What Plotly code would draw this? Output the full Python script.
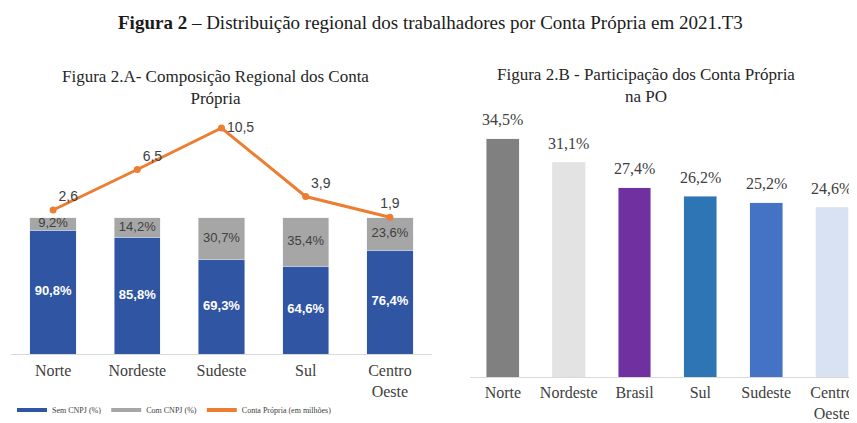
import plotly.graph_objects as go

# ---- Data: Figura 2.A ----
regioes_a = ["Norte", "Nordeste", "Sudeste", "Sul", "Centro<br>Oeste"]
sem_cnpj = [90.8, 85.8, 69.3, 64.6, 76.4]
com_cnpj = [9.2, 14.2, 30.7, 35.4, 23.6]
conta_propria_milhoes = [2.6, 6.5, 10.5, 3.9, 1.9]

# ---- Data: Figura 2.B ----
regioes_b = ["Norte", "Nordeste", "Brasil", "Sul", "Sudeste", "Centro<br>Oeste"]
participacao_po = [34.5, 31.1, 27.4, 26.2, 25.2, 24.6]

BLUE = "#2f55a3"
GRAY = "#a6a6a6"
ORANGE = "#ed7d31"
colors_b = ["#808080", "#e3e3e3", "#7030a0", "#2e75b6", "#4472c4", "#d9e2f3"]
TXT = "#404040"
SERIF = "Liberation Serif"
SANS = "Liberation Sans"

H = 423.0
W = 857.0
OFF = 8.0  # page body margin offset


def py(pix):
    return (H - (pix - OFF)) / H


def px(pix):
    return (pix - OFF) / W


fig = go.Figure()

# Left chart stacked bars
fig.add_trace(go.Bar(x=regioes_a, y=sem_cnpj, marker_color=BLUE, width=0.55,
                     showlegend=False, xaxis="x", yaxis="y", hoverinfo="skip"))
fig.add_trace(go.Bar(x=regioes_a, y=com_cnpj, marker_color=GRAY, width=0.55,
                     showlegend=False, xaxis="x", yaxis="y", hoverinfo="skip"))

# Segment labels (centred in each segment)
mid_sem = [v / 2 for v in sem_cnpj]
mid_com = [s + c / 2 for s, c in zip(sem_cnpj, com_cnpj)]
fig.add_trace(go.Scatter(x=regioes_a, y=mid_sem, mode="text", customdata=sem_cnpj,
                         texttemplate="<b>%{customdata:.1f}%</b>",
                         textfont=dict(family=SANS, size=13, color="white"),
                         showlegend=False, xaxis="x", yaxis="y", hoverinfo="skip"))
fig.add_trace(go.Scatter(x=regioes_a, y=mid_com, mode="text", customdata=com_cnpj,
                         texttemplate="%{customdata:.1f}%",
                         textfont=dict(family=SANS, size=13, color=TXT),
                         showlegend=False, xaxis="x", yaxis="y", hoverinfo="skip"))

# Line on secondary axis
fig.add_trace(go.Scatter(x=regioes_a, y=conta_propria_milhoes, mode="lines+markers+text",
                         line=dict(color=ORANGE, width=3), marker=dict(color=ORANGE, size=7),
                         texttemplate="%{y:.1f}",
                         textposition=["top right", "top right", "middle right", "top right", "top center"],
                         textfont=dict(family=SANS, size=14, color=TXT),
                         showlegend=False, xaxis="x", yaxis="y2", hoverinfo="skip"))

# Legend entries (wide swatches like the original)
for name, col in [("Sem CNPJ (%)", BLUE), ("Com CNPJ (%)", GRAY), ("Conta Própria (em milhões)", ORANGE)]:
    fig.add_trace(go.Scatter(x=[None], y=[None], mode="lines", name=name,
                             line=dict(color=col, width=4), xaxis="x", yaxis="y"))

# Right chart bars
fig.add_trace(go.Bar(x=regioes_b, y=participacao_po, marker_color=colors_b, width=0.5,
                     showlegend=False, xaxis="x3", yaxis="y3", hoverinfo="skip"))

annotations = []
for cat, v in zip(regioes_b, participacao_po):
    annotations.append(dict(x=cat, y=v, xref="x3", yref="y3", text=f"{v:.1f}%".replace(".", ","),
                            showarrow=False, yshift=19,
                            font=dict(family=SERIF, size=16, color=TXT)))

annotations += [
    dict(x=px(430), y=py(22), xref="paper", yref="paper", showarrow=False,
         xanchor="center", yanchor="middle",
         text="<b>Figura 2</b> – Distribuição regional dos trabalhadores por Conta Própria em 2021.T3",
         font=dict(family=SERIF, size=19, color="#1a1a1a")),
    dict(x=px(215), y=py(87), xref="paper", yref="paper", showarrow=False,
         xanchor="center", yanchor="middle",
         text="Figura 2.A- Composição Regional dos Conta<br>Própria",
         font=dict(family=SERIF, size=17, color="#262626")),
    dict(x=px(646), y=py(85), xref="paper", yref="paper", showarrow=False,
         xanchor="center", yanchor="middle",
         text="Figura 2.B - Participação dos Conta Própria<br>na PO",
         font=dict(family=SERIF, size=17, color="#262626")),
]

fig.update_layout(
    width=857, height=423,
    margin=dict(l=0, r=0, t=0, b=0, autoexpand=False),
    paper_bgcolor="white", plot_bgcolor="white",
    barmode="stack",
    separators=",.",
    annotations=annotations,
    xaxis=dict(domain=[px(11), px(432)], showline=True, linecolor="#d9d9d9", linewidth=1,
               ticks="", showgrid=False, tickfont=dict(family=SERIF, size=16, color=TXT),
               ticklabelstandoff=2, automargin=False),
    yaxis=dict(domain=[py(354), py(120)], range=[0, 172], visible=False, showgrid=False),
    yaxis2=dict(overlaying="y", range=[-11.27, 11.27], visible=False, showgrid=False),
    xaxis3=dict(domain=[px(470), px(857)], range=[-0.5, 5.38], anchor="y3", showline=True,
                linecolor="#d9d9d9", linewidth=1, ticks="", showgrid=False,
                tickfont=dict(family=SERIF, size=16, color=TXT), ticklabelstandoff=1,
                automargin=False),
    yaxis3=dict(domain=[py(377), py(100)], range=[0, 40.1], anchor="x3", visible=False, showgrid=False),
    legend=dict(orientation="h", x=px(12), y=py(410), xanchor="left", yanchor="middle",
                font=dict(family=SERIF, size=8, color=TXT), itemwidth=30,
                traceorder="normal", bgcolor="rgba(0,0,0,0)"),
)

fig.write_html("out.html")
